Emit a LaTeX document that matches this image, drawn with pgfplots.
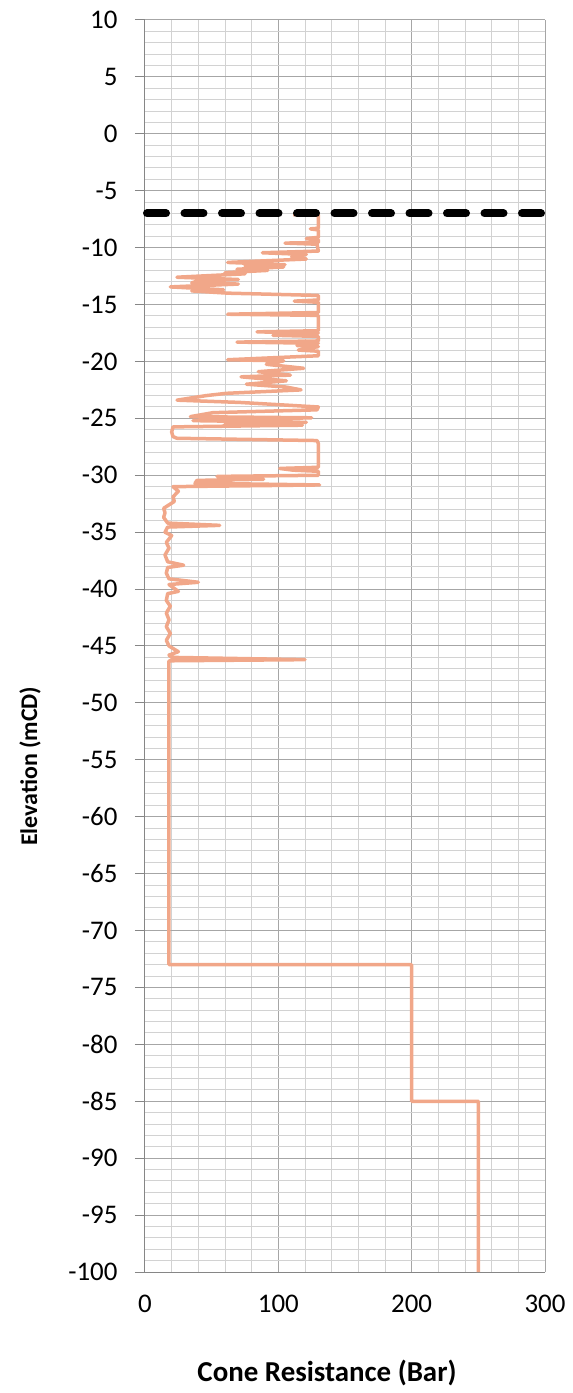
\documentclass[border=0pt]{standalone}
\usepackage{fontspec}
\setmainfont{Carlito}
\usepackage{pgfplots}
\pgfplotsset{compat=1.18}
\definecolor{cpt}{RGB}{241,167,137}
\definecolor{majgrid}{RGB}{166,166,166}
\definecolor{mingrid}{RGB}{210,210,210}
\definecolor{axgray}{RGB}{134,134,134}
\pgfplotstableread{
x y
111 -7.1
130 -7.1
130 -8.3
124 -8.35
130 -8.45
130 -9.1
121 -9.2
130 -9.3
130 -9.55
105 -9.6
129 -9.7
130 -10.3
88 -10.45
121 -10.6
110 -10.8
121 -11.0
62 -11.3
105 -11.5
75 -11.6
104 -11.7
69 -11.9
92 -12.0
60 -12.2
75 -12.3
24 -12.6
70 -12.8
40 -12.9
35 -13.1
70 -13.2
19 -13.45
59 -13.7
35 -13.8
62 -14.0
130 -14.2
130 -14.6
112 -14.7
130 -14.8
130 -15.7
62 -15.85
130 -15.95
130 -17.3
84 -17.4
130 -17.5
96 -17.7
130 -17.8
130 -18.2
69 -18.3
130 -18.4
114 -18.6
130 -18.7
115 -19.0
130 -19.1
130 -19.5
62 -19.85
104 -19.95
91 -20.25
119 -20.6
85 -20.9
109 -21.2
72 -21.35
106 -21.7
76 -22.0
106 -22.25
117 -22.5
61 -22.8
46 -23.0
24 -23.4
71 -23.6
130 -24.0
129 -24.25
51 -24.5
34 -24.85
125 -24.95
36 -25.2
121 -25.35
60 -25.5
118 -25.6
21 -25.75
20 -26.2
21 -26.6
24 -26.75
129 -26.95
130 -27.2
130 -29.3
101 -29.4
111 -29.55
130 -29.65
130 -30.0
54 -30.1
89 -30.35
39 -30.45
37.5 -30.7
131 -30.85
21 -31.0
25 -31.4
21 -31.9
22 -32.3
14 -32.9
15 -33.3
14 -33.7
17 -34.2
56 -34.4
17 -34.55
15 -35.0
20 -35.3
16 -35.9
18 -36.4
15 -37.0
17 -37.6
29 -37.9
17 -38.1
16 -38.6
18 -39.1
40 -39.4
18 -39.6
25 -40.2
17 -40.4
16 -41.0
19 -41.5
16 -42.1
18 -42.7
16 -43.3
19 -43.9
16 -44.5
18 -45.0
25 -45.5
18 -45.8
20 -46.0
120 -46.2
18 -46.3
18 -73
200 -73
200 -85
250 -85
250 -100
}\cpt
\begin{document}
\begin{tikzpicture}
\useasboundingbox (-145bp,-121bp) rectangle (428bp,1272bp);
\begin{axis}[
  at={(0,0)}, anchor=south west,
  scale only axis, width=400bp, height=1252bp,
  xmin=0, xmax=300, ymin=-100, ymax=10,
  xtick={0,100,200,300},
  ytick={-100,-95,...,10},
  minor x tick num=4, minor y tick num=4,
  grid=both,
  major grid style={draw=majgrid, line width=1bp},
  minor grid style={draw=mingrid, line width=1bp},
  axis lines=left,
  axis line style={draw=axgray, line width=1bp, -},
  tick align=outside,
  major tick length=10bp,
  minor tick length=0bp,
  xtick style={draw=none},
  ytick style={draw=axgray, line width=1bp},
  /pgf/number format/assume math mode=true,
  ticklabel style={font=\fontsize{27}{32}\selectfont},
  yticklabel style={xshift=-14bp},
  xticklabel style={yshift=-10bp},
  xlabel={Cone Resistance (Bar)},
  ylabel={Elevation (mCD)},
  xlabel style={font=\bfseries\fontsize{29}{34}\selectfont, at={(axis description cs:0.455,-0.0807)}, anchor=center},
  ylabel style={font=\bfseries\fontsize{24}{29}\selectfont, at={(axis description cs:-0.2875,0.404)}, anchor=center},
  clip=false,
]
\addplot[cpt, line width=3.5bp, line join=round] table[x=x,y=y]{\cpt};
\addplot[black, line width=8bp, line cap=round, dash pattern=on 19bp off 18.5bp] coordinates {(1.5,-7) (300,-7)};
\end{axis}
\end{tikzpicture}
\end{document}
